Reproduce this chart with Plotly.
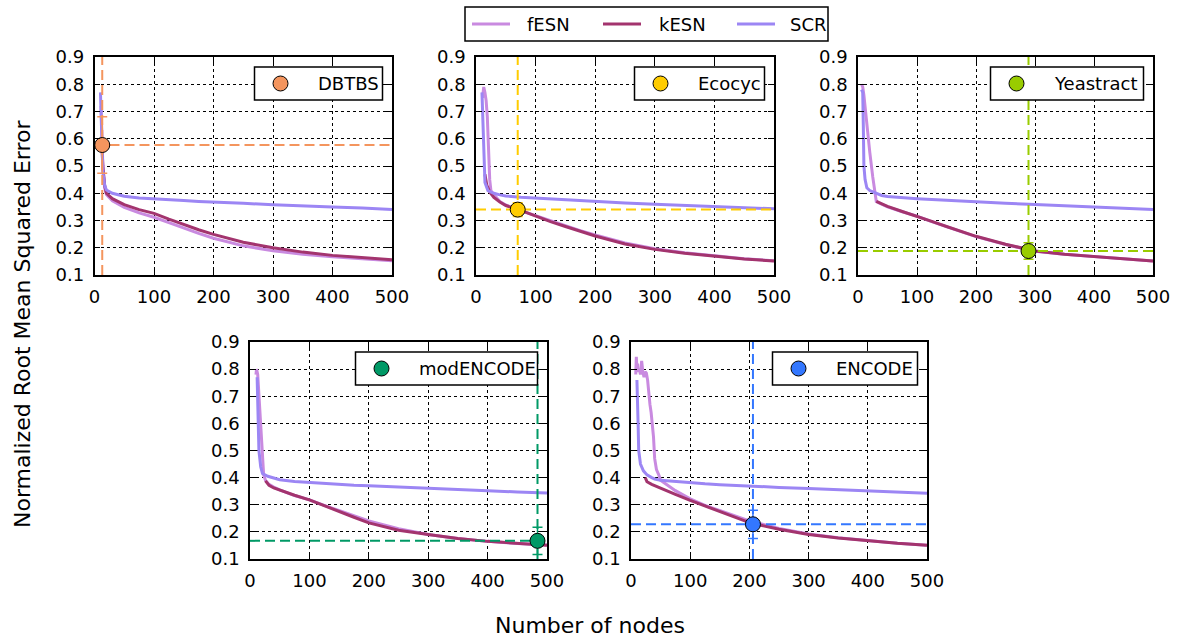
import plotly.graph_objects as go

W, H = 1180, 637
FONT = "DejaVu Sans"

# ---------------------------------------------------------------- data
DATASETS = ["DBTBS", "Ecocyc", "Yeastract", "modENCODE", "ENCODE"]
DATASET_COLORS = ["#F4955E", "#FFCC00", "#99CC00", "#009966", "#3377FF"]

SERIES = ["fESN", "kESN", "SCR"]
SERIES_COLORS = ["#C98AE0", "#A3346E", "#9C86F4"]

X_TICKS = [0, 100, 200, 300, 400, 500]
Y_TICKS = [0.1, 0.2, 0.3, 0.4, 0.5, 0.6, 0.7, 0.8, 0.9]

# shared node grid for the slowly-decaying part of every curve
TAIL_NODES = [50, 75, 100, 125, 150, 175, 200, 250, 300, 350, 400, 450, 500]

# DBTBS
DBTBS_FESN_HEAD_X = [11, 12, 14, 17, 20, 30, 40]
DBTBS_FESN_HEAD_Y = [0.72, 0.64, 0.50, 0.42, 0.395, 0.372, 0.360]
DBTBS_FESN_TAIL = [0.348, 0.328, 0.312, 0.292, 0.272, 0.253, 0.235, 0.207, 0.189, 0.176, 0.167, 0.159, 0.152]
DBTBS_KESN_HEAD_X = [12, 14, 17, 20, 30, 40]
DBTBS_KESN_HEAD_Y = [0.60, 0.50, 0.43, 0.40, 0.380, 0.368]
DBTBS_KESN_TAIL = [0.358, 0.340, 0.326, 0.305, 0.285, 0.266, 0.249, 0.220, 0.200, 0.184, 0.172, 0.163, 0.156]
DBTBS_SCR_HEAD_X = [10, 11, 12, 14, 17, 20, 30, 40]
DBTBS_SCR_HEAD_Y = [0.77, 0.70, 0.58, 0.48, 0.43, 0.412, 0.400, 0.394]
DBTBS_SCR_TAIL = [0.389, 0.383, 0.379, 0.376, 0.373, 0.370, 0.367, 0.363, 0.358, 0.355, 0.350, 0.346, 0.340]

# Ecocyc
ECOCYC_FESN_HEAD_X = [11, 13, 15, 17, 19, 21, 23, 25, 30, 40]
ECOCYC_FESN_HEAD_Y = [0.75, 0.79, 0.77, 0.74, 0.68, 0.55, 0.45, 0.41, 0.395, 0.370]
ECOCYC_FESN_TAIL = [0.357, 0.336, 0.318, 0.298, 0.280, 0.263, 0.247, 0.218, 0.196, 0.182, 0.171, 0.160, 0.152]
ECOCYC_KESN_HEAD_X = [15, 18, 23, 30, 40]
ECOCYC_KESN_HEAD_Y = [0.47, 0.43, 0.405, 0.385, 0.368]
ECOCYC_KESN_TAIL = [0.355, 0.337, 0.316, 0.296, 0.278, 0.260, 0.243, 0.214, 0.194, 0.180, 0.169, 0.159, 0.151]
ECOCYC_SCR_HEAD_X = [10, 11, 12, 13, 15, 20, 30, 40]
ECOCYC_SCR_HEAD_Y = [0.77, 0.70, 0.58, 0.50, 0.44, 0.410, 0.400, 0.394]
ECOCYC_SCR_TAIL = [0.390, 0.385, 0.382, 0.378, 0.375, 0.371, 0.368, 0.364, 0.360, 0.356, 0.352, 0.348, 0.343]

# Yeastract
YEAST_FESN_HEAD_X = [6, 8, 10, 15, 20, 25, 31, 40]
YEAST_FESN_HEAD_Y = [0.80, 0.79, 0.76, 0.65, 0.55, 0.46, 0.370, 0.360]
YEAST_FESN_TAIL = [0.350, 0.332, 0.316, 0.296, 0.277, 0.259, 0.241, 0.212, 0.187, 0.176, 0.167, 0.158, 0.151]
YEAST_KESN_HEAD_X = [31, 40]
YEAST_KESN_HEAD_Y = [0.370, 0.360]
YEAST_KESN_TAIL = [0.352, 0.333, 0.316, 0.297, 0.278, 0.260, 0.242, 0.213, 0.188, 0.176, 0.167, 0.159, 0.151]
YEAST_SCR_HEAD_X = [6, 8, 9, 10, 12, 15, 20, 30, 40]
YEAST_SCR_HEAD_Y = [0.78, 0.77, 0.65, 0.50, 0.45, 0.42, 0.410, 0.400, 0.392]
YEAST_SCR_TAIL = [0.388, 0.383, 0.380, 0.377, 0.374, 0.371, 0.367, 0.363, 0.359, 0.355, 0.350, 0.345, 0.340]

# modENCODE
MODENC_FESN_HEAD_X = [10, 11, 13, 15, 18, 21, 23, 26, 32, 40]
MODENC_FESN_HEAD_Y = [0.78, 0.80, 0.78, 0.70, 0.58, 0.47, 0.41, 0.390, 0.375, 0.365]
MODENC_FESN_TAIL = [0.355, 0.334, 0.318, 0.298, 0.278, 0.258, 0.240, 0.212, 0.190, 0.176, 0.165, 0.157, 0.152]
MODENC_KESN_HEAD_X = [26, 32, 40]
MODENC_KESN_HEAD_Y = [0.388, 0.372, 0.362]
MODENC_KESN_TAIL = [0.354, 0.335, 0.318, 0.296, 0.275, 0.254, 0.233, 0.206, 0.190, 0.176, 0.165, 0.157, 0.151]
MODENC_SCR_HEAD_X = [12, 13, 14, 15, 18, 21, 30, 40]
MODENC_SCR_HEAD_Y = [0.77, 0.70, 0.60, 0.50, 0.44, 0.415, 0.405, 0.398]
MODENC_SCR_TAIL = [0.392, 0.386, 0.382, 0.378, 0.375, 0.372, 0.370, 0.366, 0.362, 0.357, 0.352, 0.347, 0.343]

# ENCODE
ENC_FESN_HEAD_X = [8, 9, 10, 11, 12, 14, 16, 18, 20, 22, 24, 26, 28, 30, 32, 34, 36, 38, 40, 43, 47]
ENC_FESN_HEAD_Y = [0.78, 0.845, 0.80, 0.82, 0.79, 0.80, 0.78, 0.83, 0.79, 0.77, 0.79, 0.785, 0.76,
                   0.70, 0.67, 0.64, 0.60, 0.55, 0.47, 0.43, 0.41]
ENC_FESN_TAIL = [0.390, 0.352, 0.322, 0.298, 0.278, 0.260, 0.240, 0.213, 0.192, 0.178, 0.167, 0.158, 0.151]
ENC_KESN_HEAD_X = [24, 27, 35, 40]
ENC_KESN_HEAD_Y = [0.400, 0.385, 0.375, 0.370]
ENC_KESN_TAIL = [0.360, 0.338, 0.316, 0.295, 0.275, 0.255, 0.234, 0.210, 0.190, 0.177, 0.167, 0.158, 0.151]
ENC_SCR_HEAD_X = [10, 11, 12, 13, 16, 21, 27, 35, 40]
ENC_SCR_HEAD_Y = [0.76, 0.70, 0.60, 0.50, 0.45, 0.425, 0.410, 0.400, 0.395]
ENC_SCR_TAIL = [0.390, 0.385, 0.380, 0.377, 0.374, 0.371, 0.368, 0.364, 0.360, 0.355, 0.350, 0.346, 0.342]

# reference network size for each dataset with its error and spread
MARK_NODES = [13, 70, 289, 484, 206]
MARK_NRMSE = [0.577, 0.340, 0.188, 0.167, 0.228]
MARK_SPREAD = [0.104, 0.025, 0.030, 0.050, 0.052]

CURVES = [
    [(DBTBS_FESN_HEAD_X, DBTBS_FESN_HEAD_Y, DBTBS_FESN_TAIL),
     (DBTBS_KESN_HEAD_X, DBTBS_KESN_HEAD_Y, DBTBS_KESN_TAIL),
     (DBTBS_SCR_HEAD_X, DBTBS_SCR_HEAD_Y, DBTBS_SCR_TAIL)],
    [(ECOCYC_FESN_HEAD_X, ECOCYC_FESN_HEAD_Y, ECOCYC_FESN_TAIL),
     (ECOCYC_KESN_HEAD_X, ECOCYC_KESN_HEAD_Y, ECOCYC_KESN_TAIL),
     (ECOCYC_SCR_HEAD_X, ECOCYC_SCR_HEAD_Y, ECOCYC_SCR_TAIL)],
    [(YEAST_FESN_HEAD_X, YEAST_FESN_HEAD_Y, YEAST_FESN_TAIL),
     (YEAST_KESN_HEAD_X, YEAST_KESN_HEAD_Y, YEAST_KESN_TAIL),
     (YEAST_SCR_HEAD_X, YEAST_SCR_HEAD_Y, YEAST_SCR_TAIL)],
    [(MODENC_FESN_HEAD_X, MODENC_FESN_HEAD_Y, MODENC_FESN_TAIL),
     (MODENC_KESN_HEAD_X, MODENC_KESN_HEAD_Y, MODENC_KESN_TAIL),
     (MODENC_SCR_HEAD_X, MODENC_SCR_HEAD_Y, MODENC_SCR_TAIL)],
    [(ENC_FESN_HEAD_X, ENC_FESN_HEAD_Y, ENC_FESN_TAIL),
     (ENC_KESN_HEAD_X, ENC_KESN_HEAD_Y, ENC_KESN_TAIL),
     (ENC_SCR_HEAD_X, ENC_SCR_HEAD_Y, ENC_SCR_TAIL)],
]

# ---------------------------------------------------------------- layout helpers
# panel boxes in pixels: left, top, right, bottom
PANELS = [(94.5, 57, 392, 275), (476, 57, 774, 275), (858, 57, 1153, 275),
          (250, 342, 547, 559), (631, 342, 927, 559)]
INSET_WIDTHS = [128, 130, 153, 182, 145]

# top key: frame, and per series the line start and label start (pixels)
KEY_BOX = (465, 7, 828, 41)
KEY_LINE_X = [472, 603, 737]
KEY_LINE_LEN = 38
KEY_TEXT_X = [525, 657, 788]


def fx(px):
    return px / W


def fy(py):
    return 1 - py / H


fig = go.Figure()
layout = dict(
    width=W, height=H, margin=dict(l=0, r=0, t=0, b=0, autoexpand=False),
    paper_bgcolor="white", plot_bgcolor="white",
    font=dict(family=FONT, size=18, color="black"),
    showlegend=False,
)
shapes, annotations = [], []

for i, name in enumerate(DATASETS):
    n = "" if i == 0 else str(i + 1)
    xa, ya = "x" + n, "y" + n
    left, top, right, bottom = PANELS[i]
    axis_common = dict(
        ticks="inside", ticklen=6, tickwidth=1, tickcolor="black",
        showline=True, linecolor="black", linewidth=1.5, mirror="ticks",
        showgrid=True, gridcolor="black", griddash="dot", gridwidth=1,
        zeroline=False, tickfont=dict(family=FONT, size=18, color="black"),
        ticklabelstandoff=5,
    )
    layout["xaxis" + n] = dict(domain=[fx(left), fx(right)], range=[0, 500],
                               tickvals=X_TICKS, anchor=ya, **axis_common)
    layout["yaxis" + n] = dict(domain=[fy(bottom), fy(top)], range=[0.1, 0.9],
                               tickvals=Y_TICKS, tickformat=".1f", anchor=xa,
                               **axis_common)

    for s, (hx, hy, tail) in enumerate(CURVES[i]):
        fig.add_trace(go.Scatter(
            x=list(hx) + TAIL_NODES, y=list(hy) + list(tail), mode="lines",
            name=SERIES[s], line=dict(color=SERIES_COLORS[s], width=3),
            xaxis=xa, yaxis=ya))

    c = DATASET_COLORS[i]
    mx, my, sd = MARK_NODES[i], MARK_NRMSE[i], MARK_SPREAD[i]
    # crosshair through the reference point
    fig.add_trace(go.Scatter(x=[0, 500], y=[my, my], mode="lines",
                             line=dict(color=c, width=2, dash="10px,5px"),
                             xaxis=xa, yaxis=ya, hoverinfo="skip"))
    fig.add_trace(go.Scatter(x=[mx, mx], y=[0.1, 0.9], mode="lines",
                             line=dict(color=c, width=2, dash="10px,5px"),
                             xaxis=xa, yaxis=ya, hoverinfo="skip"))
    fig.add_trace(go.Scatter(
        x=[mx], y=[my], mode="markers", name=name,
        marker=dict(size=15, color=c, line=dict(color="black", width=1)),
        error_y=dict(type="data", array=[sd], color=c, thickness=1.5, width=5),
        xaxis=xa, yaxis=ya))

    # inset key with the dataset name
    bx1 = right - 9.5
    bx0 = bx1 - INSET_WIDTHS[i]
    by0, by1 = top + 10, top + 43
    shapes.append(dict(type="rect", xref="paper", yref="paper",
                       x0=fx(bx0), x1=fx(bx1), y0=fy(by1), y1=fy(by0),
                       fillcolor="white", line=dict(color="black", width=1.5),
                       layer="above"))
    cx, cy, r = bx0 + 26, (by0 + by1) / 2, 7.5
    shapes.append(dict(type="circle", xref="paper", yref="paper",
                       x0=fx(cx - r), x1=fx(cx + r), y0=fy(cy + r), y1=fy(cy - r),
                       fillcolor=c, line=dict(color="black", width=1), layer="above"))
    annotations.append(dict(text=name, xref="paper", yref="paper",
                            x=fx(bx0 + 61), y=fy(cy), xanchor="left", yanchor="middle",
                            showarrow=False, font=dict(family=FONT, size=18, color="black")))

# series key above the panels
kx0, ky0, kx1, ky1 = KEY_BOX
shapes.append(dict(type="rect", xref="paper", yref="paper",
                   x0=fx(kx0), x1=fx(kx1), y0=fy(ky1), y1=fy(ky0),
                   fillcolor="white", line=dict(color="black", width=1.5), layer="above"))
kyc = (ky0 + ky1) / 2
for s, label in enumerate(SERIES):
    shapes.append(dict(type="line", xref="paper", yref="paper",
                       x0=fx(KEY_LINE_X[s]), x1=fx(KEY_LINE_X[s] + KEY_LINE_LEN),
                       y0=fy(kyc), y1=fy(kyc),
                       line=dict(color=SERIES_COLORS[s], width=3), layer="above"))
    annotations.append(dict(text=label, xref="paper", yref="paper",
                            x=fx(KEY_TEXT_X[s]), y=fy(kyc), xanchor="left", yanchor="middle",
                            showarrow=False, font=dict(family=FONT, size=18, color="black")))

annotations.append(dict(text="Number of nodes", xref="paper", yref="paper",
                        x=fx(590), y=fy(625), xanchor="center", yanchor="middle",
                        showarrow=False, font=dict(family=FONT, size=22, color="black")))
annotations.append(dict(text="Normalized Root Mean Squared Error", xref="paper", yref="paper",
                        x=fx(22), y=fy(324), xanchor="center", yanchor="middle",
                        textangle=-90, showarrow=False,
                        font=dict(family=FONT, size=22, color="black")))

layout["shapes"] = shapes
layout["annotations"] = annotations
fig.update_layout(**layout)
fig.write_html("out.html")
